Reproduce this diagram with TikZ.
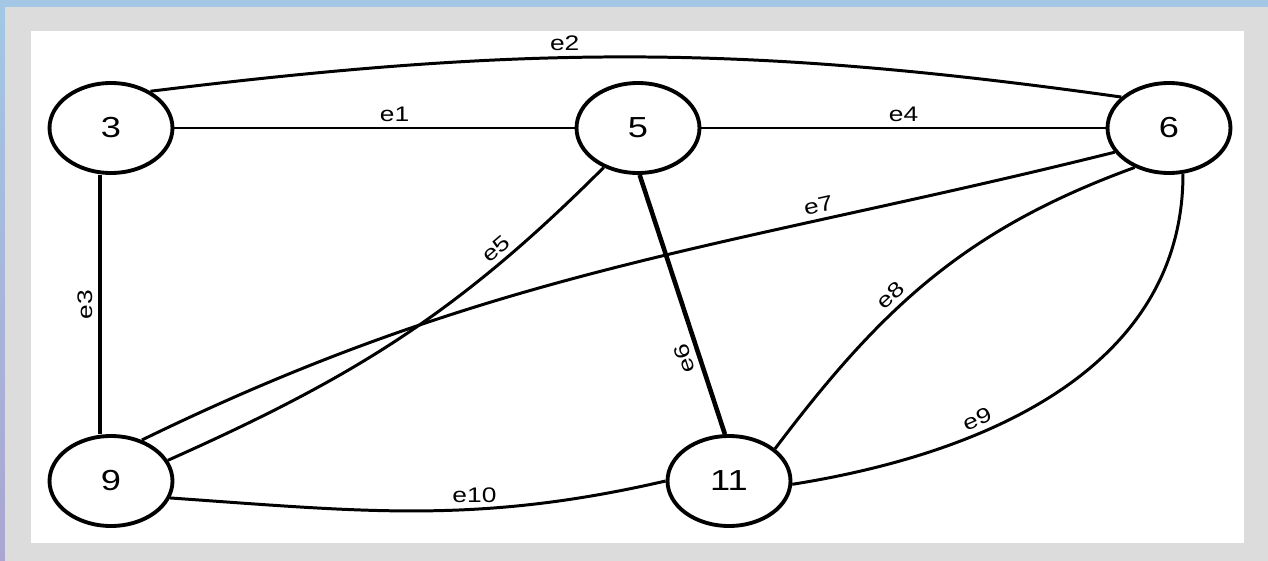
\documentclass[tikz,border=0pt]{standalone}
\usepackage{fontspec}
\setmainfont{Liberation Sans}[FakeStretch=1.25]
\usetikzlibrary{shapes.geometric}

\definecolor{skytop}{RGB}{163,199,229}
\definecolor{skybot}{RGB}{170,166,208}
\definecolor{framegray}{RGB}{220,220,220}

\tikzset{
  vertex/.style={ellipse, draw=black, line width=2.2pt, fill=white,
    minimum width=2.46cm, minimum height=1.8cm, inner sep=0pt,
    font=\fontsize{16.5}{18}\selectfont},
  edge/.style={line width=1.7pt, black},
  heavy/.style={line width=2.6pt, black},
  elabel/.style={font=\fontsize{12}{14}\selectfont, inner sep=3pt},
}

\begin{document}
\begin{tikzpicture}[x=0.02cm, y=-0.02cm]
			%%%%% FRAME %%%%%
			\useasboundingbox (0,0) rectangle (1268,561);
			\shade[top color=skytop, bottom color=skybot] (0,0) rectangle (1268,561);
			\fill[framegray] (5,7) rectangle (1268,561);
			\fill[white] (31,31) rectangle (1244,543);
			
			%%%%% VERTICES %%%%%
			\node[vertex] (v3) at (111,128) {3};
			\node[vertex] (v5) at (638,128) {5};
			\node[vertex] (v6) at (1169,128) {6};
			\node[vertex] (v9) at (111,481) {9};
			\node[vertex] (v11) at (729,481) {11};
			
			%%%%% EDGES %%%%%
			\draw[edge] (v3) -- node[elabel, above, pos=0.55] {e1} (v5);
			\draw[edge] (v3.43) to[out=7, in=172] node[elabel, above, pos=0.42] {e2} (v6.147);
			\draw[heavy] ([xshift=-0.22cm]v3.south) -- node[elabel, rotate=90, above] {e3} ([xshift=-0.22cm]v9.north);
			\draw[edge] (v5) -- node[elabel, above] {e4} (v6);
			\draw[edge] (v5.229) to[out=225, in=24] node[elabel, above, sloped, pos=0.24] {e5} (v9.20);
			\draw[heavy] (v5.-88) -- node[elabel, rotate=108, above, pos=0.69] {e6} (v11.95);
			\draw[edge] (v9.53) to[out=26, in=194] node[elabel, above, sloped, pos=0.72] {e7} (v6.204);
			\draw[edge] (v11.35) to[out=53, in=200] node[elabel, above, sloped, pos=0.4] {e8} (v6.229);
			\draw[edge] (v6.-73) to[out=-90, in=9] node[elabel, above, sloped, pos=0.66] {e9} (v11.-3);
			\draw[edge] (v9.-16) to[out=-4, in=193] node[elabel, above, pos=0.62] {e10} (v11.west);
			
			%%%%% END %%%%%
\end{tikzpicture}
\end{document}
